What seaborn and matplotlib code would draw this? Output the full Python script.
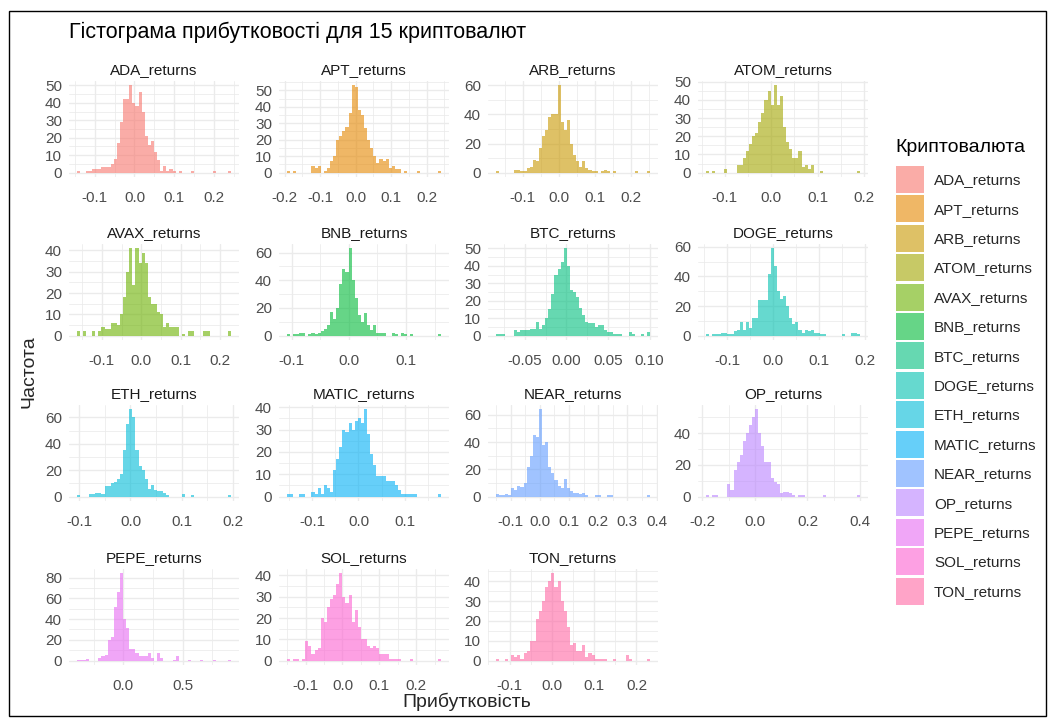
import numpy as np
import pandas as pd
import matplotlib
matplotlib.use("Agg")
import matplotlib.pyplot as plt
from matplotlib.patches import Patch, Rectangle
import seaborn as sns

# ---------------- data ----------------
currencies = ["ADA_returns", "APT_returns", "ARB_returns", "ATOM_returns", "AVAX_returns",
              "BNB_returns", "BTC_returns", "DOGE_returns", "ETH_returns", "MATIC_returns",
              "NEAR_returns", "OP_returns", "PEPE_returns", "SOL_returns", "TON_returns"]

palette = ["#F8766D", "#E58700", "#C99800", "#A3A500", "#6BB100", "#00BA38", "#00BF7D",
           "#00C0AF", "#00BCD8", "#00B0F6", "#619CFF", "#B983FF", "#E76BF3", "#FD61D1", "#FF67A4"]

# first / last bin centre of each histogram (50 bins)
ada_range = (-0.141, 0.239)
apt_range = (-0.190, 0.237)
arb_range = (-0.170, 0.249)
atom_range = (-0.138, 0.189)
avax_range = (-0.160, 0.225)
bnb_range = (-0.106, 0.159)
btc_range = (-0.083, 0.099)
doge_range = (-0.143, 0.186)
eth_range = (-0.102, 0.194)
matic_range = (-0.152, 0.176)
near_range = (-0.146, 0.373)
op_range = (-0.181, 0.395)
pepe_range = (-0.380, 0.896)
sol_range = (-0.147, 0.264)
ton_range = (-0.129, 0.229)

ada_counts = [1,0,0,1,1,2,2,2,3,3, 3,5,8,17,29,42,42,50,40,38, 46,35,21,16,18,12,7,1,4,1,
              2,1,0,1,0,0,0,1,0,0, 0,0,0,0,1,0,0,0,0,1]
apt_counts = [1,0,1,0,0,0,0,0,4,3, 4,0,1,3,7,10,20,22,25,28, 36,53,52,38,35,27,20,15,10,6,
              8,7,8,3,4,2,2,0,1,0, 0,0,1,0,0,0,0,0,0,1]
arb_counts = [1,0,0,0,0,0,2,2,1,1, 3,4,9,8,17,25,29,38,40,40, 60,35,29,36,20,12,8,4,8,3,
              2,1,1,0,1,2,1,0,1,0, 0,0,0,0,0,1,0,0,0,1]
atom_counts = [1,0,1,0,0,0,2,0,0,0, 4,4,8,12,16,20,22,28,33,40, 45,37,48,37,42,25,17,13,8,8,
               12,3,4,2,4,0,0,1,0,0, 0,0,0,0,0,0,0,0,0,1]
avax_counts = [2,0,2,0,0,2,0,2,4,3, 3,6,6,5,10,18,30,41,24,41, 34,39,34,18,15,15,11,10,4,6,
               4,4,4,0,1,0,2,2,0,0, 0,2,2,0,0,0,0,0,0,2]
bnb_counts = [1,0,1,1,2,2,0,1,2,1, 2,3,5,8,17,12,20,37,48,46, 63,40,27,15,10,16,8,4,8,2,
              2,2,0,0,2,1,0,2,1,0, 1,0,0,0,0,0,0,0,0,1]
btc_counts = [1,1,1,0,0,0,3,2,3,3, 3,4,4,8,4,6,10,15,24,35, 38,42,50,40,26,25,22,16,12,8,
              7,7,5,6,6,3,2,2,1,1, 1,0,0,2,1,0,0,1,0,2]
doge_counts = [1,0,1,1,1,2,2,1,1,3, 4,9,4,9,5,12,12,24,24,24, 42,59,47,30,25,27,20,12,8,9,
               4,2,4,3,4,2,2,1,1,0, 0,0,0,0,1,0,0,2,2,1]
eth_counts = [1,0,0,0,2,2,3,3,2,8, 8,10,11,13,17,35,55,66,60,35, 23,20,13,6,9,5,4,4,3,1,
              0,0,0,0,2,0,0,1,0,0, 0,0,0,0,0,0,0,0,0,1]
matic_counts = [1,1,0,0,1,1,0,0,2,1, 4,1,5,4,2,12,17,22,30,29, 33,30,34,35,33,39,28,19,14,9,
                9,9,7,7,7,5,3,1,1,1, 1,1,0,0,0,0,0,0,0,1]
near_counts = [2,1,1,2,1,6,5,8,7,10, 22,30,45,44,64,38,40,22,17,12, 8,6,13,6,4,3,3,2,3,1,
               0,0,1,1,0,0,1,1,0,0, 0,0,0,0,0,0,0,0,0,1]
op_counts = [1,0,1,1,0,0,0,8,4,17, 22,26,35,40,45,50,55,40,32,22, 22,12,9,8,2,3,3,2,1,0,
             1,1,0,0,0,0,0,0,1,0, 0,0,0,0,0,0,0,0,0,1]
pepe_counts = [1,1,1,2,0,0,0,3,4,5, 20,23,52,66,84,40,31,11,11,7, 4,4,4,7,3,0,7,3,0,0,
               0,1,4,0,0,0,1,0,0,0, 1,0,0,0,1,0,0,0,0,1]
sol_counts = [1,0,1,1,0,1,9,7,3,5, 6,20,18,25,29,31,36,41,30,27, 31,18,24,16,10,10,7,6,7,6,
              3,3,3,1,1,1,1,0,0,0, 1,0,0,0,0,0,0,0,0,1]
ton_counts = [1,0,0,1,0,3,2,3,1,4, 5,10,10,21,25,30,37,40,44,37, 40,30,25,17,8,9,5,5,8,2,
              4,3,1,1,1,1,0,0,1,0, 0,0,3,1,0,0,0,0,0,1]

ranges = [ada_range, apt_range, arb_range, atom_range, avax_range, bnb_range, btc_range,
          doge_range, eth_range, matic_range, near_range, op_range, pepe_range, sol_range, ton_range]
counts_all = [ada_counts, apt_counts, arb_counts, atom_counts, avax_counts, bnb_counts,
              btc_counts, doge_counts, eth_counts, matic_counts, near_counts, op_counts,
              pepe_counts, sol_counts, ton_counts]

x_ticks = [[-0.1, 0.0, 0.1, 0.2], [-0.2, -0.1, 0.0, 0.1, 0.2], [-0.1, 0.0, 0.1, 0.2],
           [-0.1, 0.0, 0.1, 0.2], [-0.1, 0.0, 0.1, 0.2], [-0.1, 0.0, 0.1],
           [-0.05, 0.0, 0.05, 0.10], [-0.1, 0.0, 0.1, 0.2], [-0.1, 0.0, 0.1, 0.2],
           [-0.1, 0.0, 0.1], [-0.1, 0.0, 0.1, 0.2, 0.3, 0.4], [-0.2, 0.0, 0.2, 0.4],
           [0.0, 0.5], [-0.1, 0.0, 0.1, 0.2], [-0.1, 0.0, 0.1, 0.2]]
x_decimals = [1, 1, 1, 1, 1, 1, 2, 1, 1, 1, 1, 1, 1, 1, 1]
y_ticks = [[0, 10, 20, 30, 40, 50], [0, 10, 20, 30, 40, 50], [0, 20, 40, 60],
           [0, 10, 20, 30, 40, 50], [0, 10, 20, 30, 40], [0, 20, 40, 60],
           [0, 10, 20, 30, 40, 50], [0, 20, 40, 60], [0, 20, 40, 60], [0, 10, 20, 30, 40],
           [0, 20, 40, 60], [0, 20, 40], [0, 20, 40, 60, 80], [0, 10, 20, 30, 40],
           [0, 10, 20, 30, 40]]

title = "Гістограма прибутковості для 15 криптовалют"
x_label = "Прибутковість"
y_label = "Частота"
legend_title = "Криптовалюта"

# ---------------- style ----------------
sns.set_style("white")
plt.rcParams["font.family"] = ["Liberation Sans", "DejaVu Sans"]
plt.rcParams["axes.unicode_minus"] = False

W, H = 1053, 720
fig = plt.figure(figsize=(W / 100, H / 100), dpi=100)
fig.patch.set_facecolor("white")

ALPHA = 0.6
GRID = "#EBEBEB"
col_left = [69, 279, 488, 698]
row_top = [81, 244, 405, 569]
PW, PH = 170, 96
TICK_FS = 11


def minor_of(ticks, lim):
    step = ticks[1] - ticks[0]
    cand = [ticks[0] - step / 2] + [t + step / 2 for t in ticks]
    return [c for c in cand if lim[0] <= c <= lim[1]]


for k, name in enumerate(currencies):
    r, c = divmod(k, 4)
    ax = fig.add_axes([col_left[c] / W, 1 - (row_top[r] + PH) / H, PW / W, PH / H])
    lo, hi = ranges[k]
    cnt = np.array(counts_all[k], dtype=float)
    n = len(cnt)
    w = (hi - lo) / (n - 1)
    centers = lo + w * np.arange(n)
    df = pd.DataFrame({"ret": centers, "n": cnt})
    sns.histplot(data=df, x="ret", weights="n", bins=n,
                 binrange=(lo - w / 2, hi + w / 2), color=palette[k], alpha=ALPHA,
                 linewidth=0, ax=ax)
    left, right = lo - w / 2, hi + w / 2
    span = right - left
    xlim = (left - 0.05 * span, right + 0.05 * span)
    ymax = cnt.max()
    ylim = (-0.05 * ymax, 1.05 * ymax)
    ax.set_xlim(*xlim)
    ax.set_ylim(*ylim)
    xt = x_ticks[k]
    yt = y_ticks[k]
    ax.set_xticks(xt)
    ax.set_xticklabels([f"{v:.{x_decimals[k]}f}" for v in xt])
    ax.set_yticks(yt)
    ax.set_yticklabels([str(v) for v in yt])
    ax.set_xticks(minor_of(xt, xlim), minor=True)
    ax.set_yticks(minor_of(yt, ylim), minor=True)
    ax.grid(True, which="major", color=GRID, linewidth=1.0, zorder=0)
    ax.grid(True, which="minor", color=GRID, linewidth=0.55, zorder=0)
    ax.set_axisbelow(True)
    ax.tick_params(which="both", length=0, labelsize=TICK_FS, labelcolor="#4D4D4D")
    ax.tick_params(axis="x", pad=10)
    ax.tick_params(axis="y", pad=5)
    for s in ax.spines.values():
        s.set_visible(False)
    ax.set_xlabel("")
    ax.set_ylabel("")
    ax.set_title(name, fontsize=11, color="#1A1A1A", pad=4.7)

fig.text(69 / W, 1 - 32 / H, title, ha="left", va="center", fontsize=15.5, color="black")
fig.text(467 / W, 1 - 702 / H, x_label, ha="center", va="center", fontsize=14)
fig.text(29 / W, 1 - 372 / H, y_label, ha="center", va="center", rotation=90, fontsize=14)

# legend: title as text, keys as a legend below it
fig.text(895 / W, 1 - 148 / H, legend_title, ha="left", va="center", fontsize=14,
         color="black")
handles = [Patch(facecolor=col, alpha=ALPHA, edgecolor="none") for col in palette]
fs = 11 * 100 / 72
leg = fig.legend(handles, currencies, loc="upper left",
                 bbox_to_anchor=(896 / W, 1 - 166 / H), bbox_transform=fig.transFigure,
                 fontsize=11, frameon=False,
                 handlelength=28 / fs, handleheight=2.342, labelspacing=2.4 / fs,
                 handletextpad=10 / fs, borderpad=0, borderaxespad=0, alignment="left")

fig.add_artist(Rectangle((8.5 / W, 1 - 716 / H), (1046 - 8.5) / W, (716 - 10.5) / H,
                         transform=fig.transFigure, fill=False, edgecolor="black",
                         linewidth=1.0))

fig.savefig("out.png", dpi=100, facecolor="white")
